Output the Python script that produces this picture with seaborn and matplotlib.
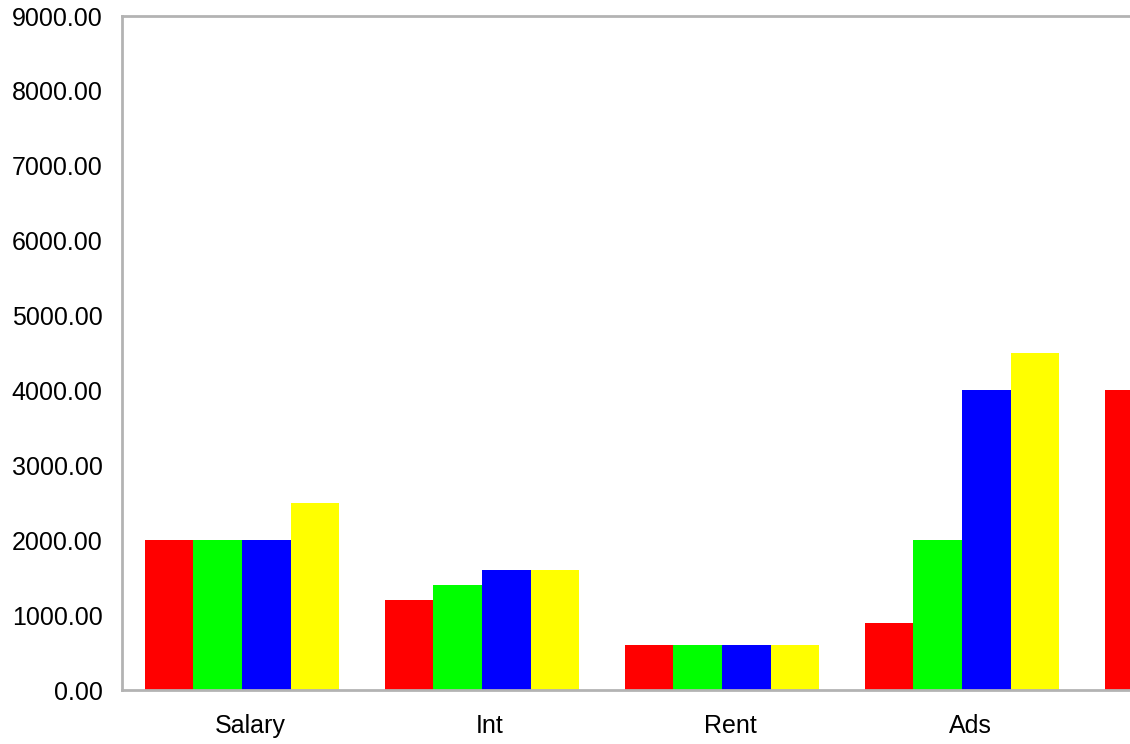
import numpy as np
import matplotlib
matplotlib.use('Agg')
import matplotlib.pyplot as plt
import pandas as pd
import seaborn as sns
from matplotlib.ticker import FormatStrFormatter

# data (5th category is cut off at the right edge)
categories = ['Salary', 'Int', 'Rent', 'Ads', 'Other']
series = ['S1', 'S2', 'S3', 'S4']
s1 = [2000, 1200, 600, 900, 4000]
s2 = [2000, 1400, 600, 2000, np.nan]
s3 = [2000, 1600, 600, 4000, np.nan]
s4 = [2500, 1600, 600, 4500, np.nan]
colors = ['#ff0000', '#00ff00', '#0000ff', '#ffff00']

df = pd.DataFrame({'cat': categories * 4,
                   'series': np.repeat(series, len(categories)),
                   'value': s1 + s2 + s3 + s4})

sns.set_style('white')
plt.rcParams['font.family'] = ['Liberation Sans', 'DejaVu Sans']

W, H = 1130, 744
fig = plt.figure(figsize=(W / 100, H / 100), dpi=100)
# axes run past the right edge of the figure, like the cropped original
px_unit = 240
left, bottom, top = 122, 690, 16
ax_w = 5 * px_unit
ax = fig.add_axes([left / W, (H - bottom) / H, ax_w / W, (bottom - top) / H])

sns.barplot(data=df, x='cat', y='value', hue='series', palette=colors,
            width=0.81, saturation=1, order=categories, hue_order=series,
            linewidth=0, legend=False, ax=ax)

ax.set_xlim(-0.5, 4.5)
ax.set_ylim(0, 9000)
ax.set_yticks(np.arange(0, 9001, 1000))
ax.yaxis.set_major_formatter(FormatStrFormatter('%.2f'))
# only the first four labels fall inside the picture
ax.set_xticks(np.arange(4) + 8 / px_unit, categories[:4])
ax.tick_params(axis='both', length=0, labelsize=18, colors='black')
ax.tick_params(axis='x', pad=17.5)
ax.tick_params(axis='y', pad=14)
ax.set_xlabel('')
ax.set_ylabel('')
for sp in ax.spines.values():
    sp.set_color('#b3b3b3')
    sp.set_linewidth(2)

fig.savefig('out.png', dpi=100)
